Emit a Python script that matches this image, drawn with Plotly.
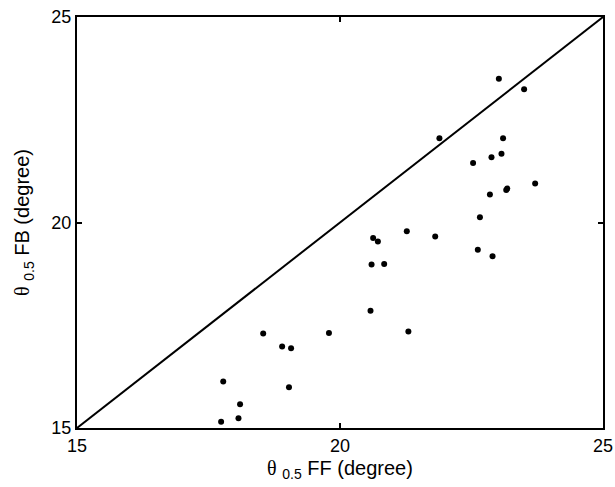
import plotly.graph_objects as go

ff = [17.78, 19.03, 18.10, 18.07, 17.74, 18.54, 18.90, 19.07, 19.79,
      20.63, 20.72, 21.27, 21.81, 20.60, 20.84, 20.58, 21.30,
      23.02, 23.50, 21.89, 23.10, 22.88, 23.07, 22.53, 23.71, 23.18, 23.16,
      22.85, 22.66, 22.62, 22.90]
fb = [16.13, 15.99, 15.58, 15.24, 15.15, 17.30, 16.98, 16.94, 17.31,
      19.62, 19.54, 19.79, 19.66, 18.98, 18.99, 17.85, 17.35,
      23.50, 23.24, 22.05, 22.05, 21.59, 21.67, 21.45, 20.95, 20.83, 20.79,
      20.68, 20.13, 19.34, 19.18]
diag = [15, 25]
ticks = [15, 20, 25]

fig = go.Figure()
fig.add_trace(go.Scatter(x=diag, y=diag, mode="lines",
                         line=dict(color="black", width=2), hoverinfo="skip"))
fig.add_trace(go.Scatter(x=ff, y=fb, mode="markers",
                         marker=dict(color="black", size=6)))

theta = '<span style="font-family:Liberation Serif">θ</span>'
axis_common = dict(range=[15, 25], tickvals=ticks, ticktext=[str(t) for t in ticks],
                   showline=True, mirror="ticks", linecolor="black", linewidth=2,
                   ticks="inside", ticklen=5, tickwidth=1.5, tickcolor="black",
                   showgrid=False, zeroline=False, automargin=False,
                   ticklabeloverflow="allow",
                   tickfont=dict(family="Liberation Sans", size=18, color="black"))
title_font = dict(family="Liberation Sans", size=20, color="black")

fig.update_layout(
    width=615, height=487,
    margin=dict(l=77, r=12, t=17, b=59),
    paper_bgcolor="white", plot_bgcolor="white",
    showlegend=False,
    xaxis=dict(**axis_common,
               title=dict(text=theta + "&nbsp;<sub>0.5</sub>&nbsp;FF (degree)", standoff=6,
                          font=title_font)),
    yaxis=dict(**axis_common,
               title=dict(text=theta + "&nbsp;<sub>0.5</sub>&nbsp;FB (degree)", standoff=16,
                          font=title_font)),
)
fig.write_html("out.html")
